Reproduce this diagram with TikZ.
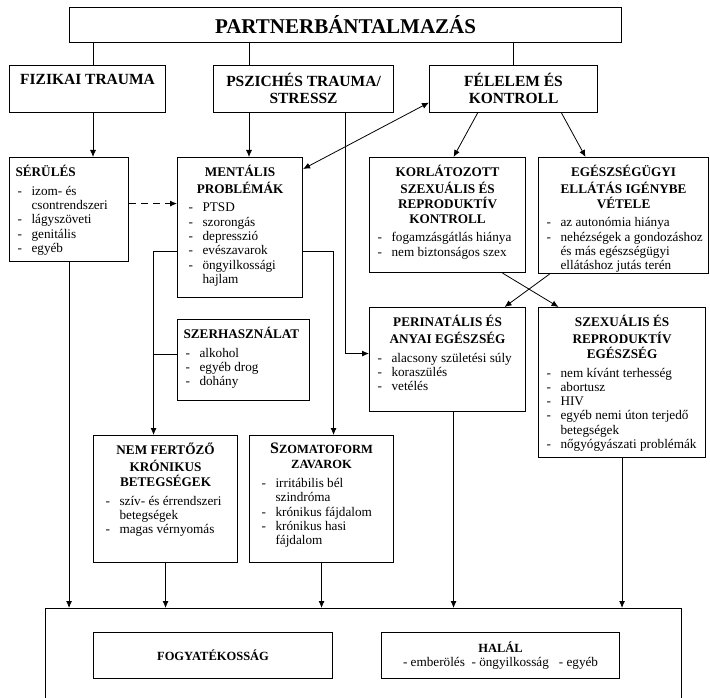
\documentclass[tikz,border=0pt]{standalone}
\usepackage{fontspec}
\setmainfont{Liberation Serif}
\usepackage{tikz}
\usetikzlibrary{arrows.meta}
\tikzstyle{arrow} = [line width=0.8pt,-{Latex[length=7pt,width=6pt]}]
\tikzstyle{twoway} = [line width=0.8pt,{Latex[length=7pt,width=6pt]}-{Latex[length=7pt,width=6pt]}]
\tikzstyle{link} = [line width=0.8pt]

\newlength{\lpad}
\setlength{\lpad}{8pt}
\newcommand{\bx}[3]{\parbox[c][#2][t]{#1}{\vspace*{7.5pt}\raggedright\hyphenpenalty=10000 #3}}
\newcommand{\hdtop}[1]{{\centering\fontsize{15.5}{17}\selectfont\bfseries\strut #1\par}}
\newcommand{\hd}[1]{{\centering\fontsize{13.2}{15}\selectfont\bfseries\strut #1\par}\vspace{4.5pt}}
\newcommand{\hdl}[1]{{\fontsize{13.2}{15}\selectfont\bfseries\hspace*{6pt}\strut #1\par}\vspace{4.5pt}}
\newcommand{\itm}[1]{{\fontsize{13.2}{14.3}\selectfont\hangindent=\dimexpr\lpad+14pt\relax\hangafter=1\hspace*{\lpad}\makebox[14pt][l]{-}#1\par}}

\begin{document}
\begin{tikzpicture}[x=1pt, y=-1pt,
    box/.style={draw, line width=1.1pt, inner sep=0pt, anchor=north west}]
  \path[use as bounding box, clip] (0,0) rectangle (710,698);

  % Top row
  \node[box, minimum width=552pt, minimum height=35pt, font=\fontsize{21}{24}\selectfont\bfseries] (title) at (69,7) {PARTNERBÁNTALMAZÁS};
  \node[box] (fiz) at (9,65) {\bx{156pt}{47pt}{\hdtop{FIZIKAI TRAUMA}}};
  \node[box] (psz) at (213,65) {\bx{180pt}{47pt}{\hdtop{PSZICHÉS TRAUMA/\\STRESSZ}}};
  \node[box] (fel) at (429,65) {\bx{168pt}{47pt}{\hdtop{FÉLELEM ÉS\\KONTROLL}}};

  % Middle rows
  \node[box] (ser) at (9,157) {\bx{119pt}{104pt}{\hdl{SÉRÜLÉS}\itm{izom- és\newline csontrendszeri}\itm{lágyszöveti}\itm{genitális}\itm{egyéb}}};
  \node[box] (men) at (177,157) {\bx{125pt}{140pt}{\setlength{\lpad}{11pt}\hd{MENTÁLIS\\PROBLÉMÁK}\itm{PTSD}\itm{szorongás}\itm{depresszió}\itm{evészavarok}\itm{öngyilkossági\newline hajlam}}};
  \node[box] (kor) at (369,157) {\bx{156pt}{115pt}{\hd{KORLÁTOZOTT\\SZEXUÁLIS ÉS\\REPRODUKTÍV\\KONTROLL}\itm{fogamzásgátlás hiánya}\itm{nem biztonságos szex}}};
  \node[box] (ege) at (538,157) {\bx{170pt}{116pt}{\hd{EGÉSZSÉGÜGYI\\ELLÁTÁS IGÉNYBE\\VÉTELE}\itm{az autonómia hiánya}\itm{nehézségek a gondozáshoz\newline és más egészségügyi\newline ellátáshoz jutás terén}}};
  \node[box] (szer) at (177,319) {\bx{132pt}{81pt}{\hdl{SZERHASZNÁLAT}\itm{alkohol}\itm{egyéb drog}\itm{dohány}}};
  \node[box] (per) at (369,307) {\bx{156pt}{104pt}{\hd{PERINATÁLIS ÉS\\ANYAI EGÉSZSÉG}\itm{alacsony születési súly}\itm{koraszülés}\itm{vetélés}}};
  \node[box] (szex) at (538,307) {\bx{167pt}{150pt}{\hd{SZEXUÁLIS ÉS\\REPRODUKTÍV\\EGÉSZSÉG}\itm{nem kívánt terhesség}\itm{abortusz}\itm{HIV}\itm{egyéb nemi úton terjedő\newline betegségek}\itm{nőgyógyászati problémák}}};
  \node[box] (nem) at (93,435) {\bx{144pt}{127pt}{\setlength{\lpad}{12pt}\hd{NEM FERTŐZŐ\\KRÓNIKUS\\BETEGSÉGEK}\itm{szív- és érrendszeri\newline betegségek}\itm{magas vérnyomás}}};
  \node[box] (szom) at (249,435) {\bx{144pt}{127pt}{\setlength{\lpad}{12pt}\hd{{\fontsize{16}{15}\selectfont S}{\fontsize{12.5}{15}\selectfont ZOMATOFORM}\\{\fontsize{12.5}{15}\selectfont ZAVAROK}}\itm{irritábilis bél\newline szindróma}\itm{krónikus fájdalom}\itm{krónikus hasi\newline fájdalom}}};

  % Outcomes
  \node[box, minimum width=636pt, minimum height=140pt] (out) at (45,608) {};
  \node[box, minimum width=239pt, minimum height=46pt, font=\fontsize{12.5}{14}\selectfont\bfseries] (fogy) at (93,632) {FOGYATÉKOSSÁG};
  \node[box, minimum width=238pt, minimum height=46pt, align=center, font=\fontsize{13.2}{14}\selectfont] (halal) at (381,632) {{\fontsize{12.5}{14}\selectfont\bfseries HALÁL}\\- emberölés\ \ - öngyilkosság\ \ \ - egyéb};

  % Connectors
  \coordinate (xa) at (93,0);
  \coordinate (xb) at (249,0);
  \coordinate (xc) at (345,0);
  \coordinate (xn) at ([xshift=-12pt]nem.north);
  \coordinate (xp) at ([xshift=6pt]per.south);
  \coordinate (sj) at ([yshift=5.5pt]szer.west);
  \draw[link] (title.south -| xa) -- (fiz.north -| xa);
  \draw[link] (title.south -| xb) -- (psz.north -| xb);
  \draw[link] (fel.north |- title.south) -- (fel.north);
  \draw[arrow] (fiz.south -| xa) -- (ser.north -| xa);
  \draw[arrow] (psz.south -| xb) -- (men.north -| xb);
  \draw[arrow] (psz.south -| xc) |- ([yshift=6pt]per.west);
  \draw[twoway] ([yshift=-12pt]men.north east) -- ([yshift=-13.5pt]fel.west);
  \draw[arrow] ([xshift=-36pt]fel.south) -- ([xshift=6pt]kor.north);
  \draw[arrow] ([xshift=48pt]fel.south) -- ([xshift=-38pt]ege.north);
  \draw[arrow, dash pattern=on 7pt off 5pt] ([yshift=6pt]ser.east) -- ([yshift=24pt]men.west);
  \draw[arrow] ([yshift=-24pt]men.west) -| (xn);
  \draw[link] (sj) -- (sj -| xn);
  \draw[arrow] ([yshift=-24pt]men.east) -| ([xshift=12pt]szom.north);
  \draw[arrow] ([xshift=55pt]kor.south) -- ([xshift=-63.5pt]szex.north);
  \draw[arrow] ([xshift=-74pt]ege.south) -- ([xshift=57pt]per.north);
  \draw[arrow] (ser.south) -- (ser.south |- out.north);
  \draw[arrow] (nem.south) -- (nem.south |- out.north);
  \draw[arrow] (szom.south) -- (szom.south |- out.north);
  \draw[arrow] (xp) -- (xp |- out.north);
  \draw[arrow] (szex.south) -- (szex.south |- out.north);
\end{tikzpicture}
\end{document}
